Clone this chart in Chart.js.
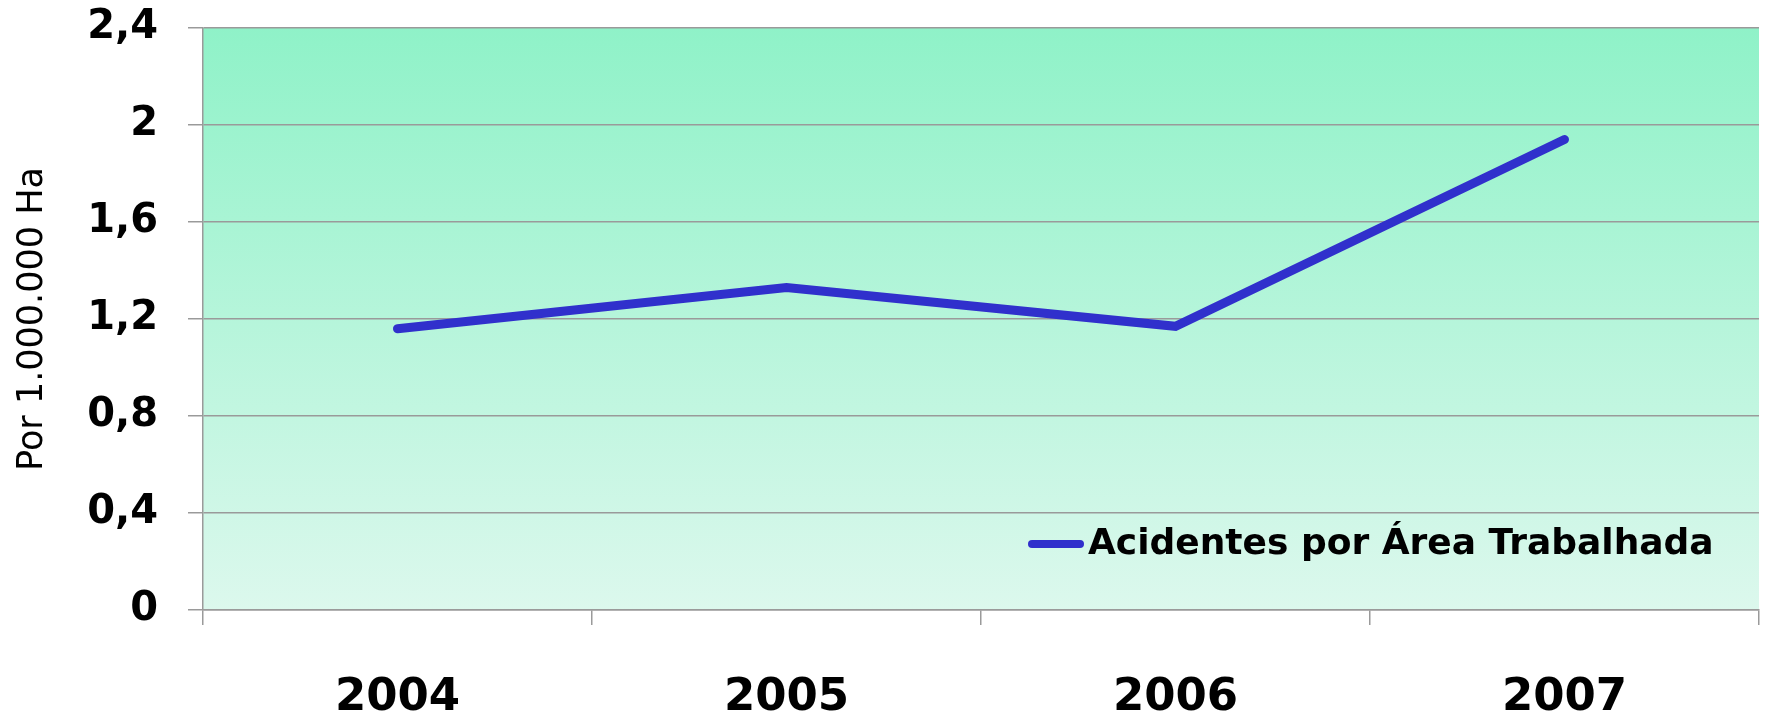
<!DOCTYPE html>
<html>
<head>
<meta charset="utf-8">
<script src="https://cdn.jsdelivr.net/npm/chart.js@4"></script>
<style>
  html, body { margin: 0; padding: 0; background: #fff; }
  #wrap { width: 1767px; height: 718px; }
</style>
</head>
<body>
<div id="wrap"><canvas id="chart" width="1767" height="718"></canvas></div>
<script>
const years = ['2004', '2005', '2006', '2007'];
const accidents = [1.16, 1.33, 1.17, 1.94];
const yTickLabels = ['0', '0,4', '0,8', '1,2', '1,6', '2', '2,4'];
const seriesName = 'Acidentes por Área Trabalhada';
const yTitle = 'Por 1.000.000 Ha';

const gridColor = '#9a9a9a';
const lineColor = '#3030cc';

// green gradient behind the plot area
const plotBackground = {
    id: 'plotBackground',
    beforeDraw(chart) {
        const { ctx, chartArea: a } = chart;
        const g = ctx.createLinearGradient(0, a.top, 0, a.bottom);
        g.addColorStop(0, '#8ff2c8');
        g.addColorStop(1, '#dcf8ed');
        ctx.save();
        ctx.fillStyle = g;
        ctx.fillRect(a.left, a.top, a.right - a.left, a.bottom - a.top);
        ctx.restore();
    }
};

// legend drawn inside the plot, lower right
const innerLegend = {
    id: 'innerLegend',
    afterDraw(chart) {
        const { ctx, chartArea: a } = chart;
        const ds = chart.data.datasets[0];
        const y = a.bottom - 66;
        const x = a.left + 825;
        ctx.save();
        ctx.strokeStyle = ds.borderColor;
        ctx.lineWidth = 8;
        ctx.lineCap = 'round';
        ctx.beginPath();
        ctx.moveTo(x + 4, y);
        ctx.lineTo(x + 52, y);
        ctx.stroke();
        ctx.fillStyle = '#000';
        ctx.font = 'bold 36px "DejaVu Sans"';
        ctx.textBaseline = 'middle';
        ctx.fillText(ds.label, x + 60, y + 1);
        ctx.restore();
    }
};

new Chart(document.getElementById('chart'), {
    type: 'line',
    data: {
        labels: years,
        datasets: [{
            label: seriesName,
            data: accidents,
            borderColor: lineColor,
            backgroundColor: lineColor,
            borderWidth: 9,
            borderCapStyle: 'round',
            borderJoinStyle: 'miter',
            pointRadius: 0,
            tension: 0
        }]
    },
    options: {
        responsive: false,
        animation: false,
        layout: { padding: { left: 0, right: 8, top: 28, bottom: 0 } },
        plugins: {
            legend: { display: false },
            tooltip: { enabled: false }
        },
        scales: {
            x: {
                offset: true,
                afterFit: (scale) => { scale.height = 108; },
                grid: {
                    display: true,
                    offset: true,
                    drawOnChartArea: false,
                    drawTicks: true,
                    tickLength: 15,
                    color: gridColor,
                    lineWidth: 1.5
                },
                border: { display: true, color: gridColor, width: 1.5 },
                ticks: {
                    color: '#000',
                    padding: 46,
                    font: { family: '"DejaVu Sans"', weight: 'bold', size: 45 }
                }
            },
            y: {
                min: 0,
                max: 2.4,
                afterFit: (scale) => {
                    scale.width = 203;
                    scale.paddingTop = 0;
                    scale.paddingBottom = 0;
                },
                ticks: {
                    stepSize: 0.4,
                    color: '#000',
                    padding: 30,
                    font: { family: '"DejaVu Sans"', weight: 'bold', size: 40 },
                    callback: (value, index) => yTickLabels[index]
                },
                grid: {
                    color: gridColor,
                    lineWidth: 1.5,
                    tickLength: 15
                },
                border: { display: true, color: gridColor, width: 1.5 },
                title: {
                    display: true,
                    text: yTitle,
                    color: '#000',
                    padding: { top: 12, bottom: 0 },
                    font: { family: '"DejaVu Sans"', size: 35, weight: 'normal' }
                }
            }
        }
    },
    plugins: [plotBackground, innerLegend]
});
</script>
</body>
</html>
